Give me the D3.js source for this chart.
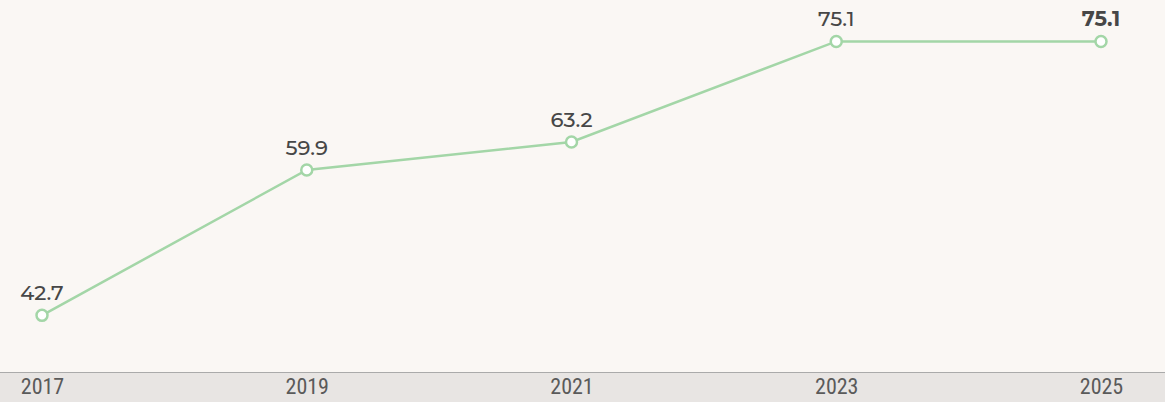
<!DOCTYPE html>
<html>
<head>
<meta charset="utf-8">
<script src="https://cdn.jsdelivr.net/npm/d3@7"></script>
<style>
  html, body { margin: 0; padding: 0; background: #faf7f4; }
  svg { display: block; }
  .value { font-family: "Montserrat", "Noto Sans", sans-serif; font-weight: 500; font-size: 21px; fill: #474747; text-anchor: middle; }
  .value.last { font-weight: bold; }
  .tick text { font-family: "Roboto Condensed", "Liberation Sans Narrow", "Noto Sans", sans-serif; font-weight: 400; font-size: 22px; fill: #5a5a5a; }
</style>
</head>
<body>
<div id="chart"></div>
<script>
  var years = [2017, 2019, 2021, 2023, 2025];
  var values = [42.7, 59.9, 63.2, 75.1, 75.1];
  var tickLabels = ['2017', '2019', '2021', '2023', '2025'];

  var width = 1165,
    height = 402,
    axisTop = 372;

  var data = years.map(function(y, i) { return {year: y, value: values[i]}; });

  var svg = d3.select('#chart').append('svg')
    .attr('width', width)
    .attr('height', height);

  // plot area + axis band
  svg.append('rect')
    .attr('width', width)
    .attr('height', axisTop)
    .attr('fill', '#faf7f4');
  svg.append('rect')
    .attr('y', axisTop)
    .attr('width', width)
    .attr('height', height - axisTop)
    .attr('fill', '#e8e5e3');

  var x = d3.scaleLinear().domain([2017, 2025]).range([42, 1101]);
  var y = d3.scaleLinear().domain([36, 80]).range([axisTop, 0]);

  var xAxis = d3.axisBottom(x)
    .tickValues(years)
    .tickFormat(function(d, i) { return tickLabels[i]; })
    .tickSize(0)
    .tickPadding(6);

  var gx = svg.append('g')
    .attr('transform', 'translate(0,' + axisTop + ')')
    .call(xAxis);
  gx.select('.domain').remove();
  gx.append('line')
    .attr('x1', 0).attr('x2', width)
    .attr('y1', 0.5).attr('y2', 0.5)
    .attr('stroke', '#aaa')
    .attr('stroke-width', 1);

  var line = d3.line()
    .x(function(d) { return x(d.year); })
    .y(function(d) { return y(d.value); });

  svg.append('path')
    .datum(data)
    .attr('d', line)
    .attr('fill', 'none')
    .attr('stroke', '#a3d6a7')
    .attr('stroke-width', 2.5);

  svg.selectAll('circle.pt')
    .data(data)
    .enter().append('circle')
    .attr('class', 'pt')
    .attr('cx', function(d) { return x(d.year); })
    .attr('cy', function(d) { return y(d.value); })
    .attr('r', 5.5)
    .attr('fill', '#fff')
    .attr('stroke', '#a3d6a7')
    .attr('stroke-width', 2.5);

  svg.selectAll('text.value')
    .data(data)
    .enter().append('text')
    .attr('class', function(d, i) { return i === data.length - 1 ? 'value last' : 'value'; })
    .attr('x', function(d) { return x(d.year); })
    .attr('y', function(d) { return y(d.value) - 15; })
    .text(function(d) { return d.value.toFixed(1); });
</script>
</body>
</html>
